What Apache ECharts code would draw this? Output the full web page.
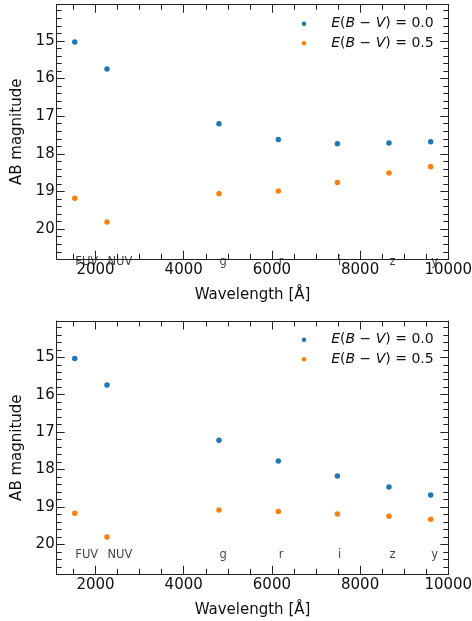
<!DOCTYPE html>
<html>
<head>
<meta charset="utf-8">
<script src="https://cdn.jsdelivr.net/npm/echarts@6/dist/echarts.min.js"></script>
<style>html,body{margin:0;padding:0;background:#fff}#c{width:472px;height:621px}</style>
</head>
<body>
<div id="c"></div>
<script>
// ---- data ----
const bands = ['FUV', 'NUV', 'g', 'r', 'i', 'z', 'y'];
const wavelengths = [1530, 2260, 4800, 6145, 7485, 8655, 9600];
const top_ebv00 = [15.03, 15.75, 17.20, 17.62, 17.73, 17.71, 17.68];
const top_ebv05 = [19.18, 19.81, 19.06, 18.99, 18.76, 18.51, 18.34];
const bot_ebv00 = [15.03, 15.74, 17.22, 17.77, 18.17, 18.47, 18.68];
const bot_ebv05 = [19.17, 19.80, 19.08, 19.12, 19.19, 19.25, 19.33];
const seriesNames = ['E(B−V)=0.0', 'E(B−V)=0.5'];
const legendValues = ['0.0', '0.5'];
const xMajorTicks = [2000, 4000, 6000, 8000, 10000];
const xMinorTicks = [1500, 2500, 3000, 3500, 4500, 5000, 5500, 6500, 7000, 7500, 8500, 9000, 9500];
const yMajorTicks = [15, 16, 17, 18, 19, 20];
const yMinorTicks = [14.2, 14.4, 14.6, 14.8, 15.2, 15.4, 15.6, 15.8, 16.2, 16.4, 16.6, 16.8, 17.2, 17.4, 17.6, 17.8, 18.2, 18.4, 18.6, 18.8, 19.2, 19.4, 19.6, 19.8, 20.2, 20.4, 20.6];
const xRange = [1120, 10000];
const yRange = [14.03, 20.8];
const bandLabelMagTop = 20.87;
const bandLabelMagBottom = 20.28;

// ---- styles ----
const FONT = 'DejaVu Sans';
const BLUE = '#1f77b4', ORANGE = '#ff7f0e';
const TXT = '#111';
const grids = [
  {left: 56.7, top: 4.3, width: 391.6, height: 255, outerBoundsMode: 'none', containLabel: false},
  {left: 56.7, top: 321, width: 391.6, height: 253.3, outerBoundsMode: 'none', containLabel: false}
];

const xAxes = [], yAxes = [];
function mkX(gi, pos, major, labels) {
  return {
    type: 'value', gridIndex: gi, position: pos, min: xRange[0], max: xRange[1],
    name: labels ? 'Wavelength [Å]' : '', nameLocation: 'middle', nameGap: 28,
    nameTextStyle: {fontFamily: FONT, fontSize: 15, color: TXT},
    axisLine: {show: major, onZero: false, lineStyle: {color: '#222', width: 1}},
    axisTick: {show: true, inside: true, length: major ? 8.5 : 5.5,
      customValues: major ? xMajorTicks : xMinorTicks, lineStyle: {color: '#222', width: 1}},
    axisLabel: {show: labels, customValues: xMajorTicks, formatter: v => String(v),
      fontFamily: FONT, fontSize: 15, color: TXT, margin: 3, hideOverlap: false},
    splitLine: {show: false}
  };
}
function mkY(gi, pos, major, labels) {
  return {
    type: 'value', gridIndex: gi, position: pos, inverse: true, min: yRange[0], max: yRange[1],
    name: labels ? 'AB magnitude' : '', nameLocation: 'middle', nameGap: 26, nameRotate: 90,
    nameTextStyle: {fontFamily: FONT, fontSize: 15, color: TXT},
    axisLine: {show: major, onZero: false, lineStyle: {color: '#222', width: 1}},
    axisTick: {show: true, inside: true, length: major ? 8 : 5,
      customValues: major ? yMajorTicks : yMinorTicks, lineStyle: {color: '#222', width: 1}},
    axisLabel: {show: labels, customValues: yMajorTicks, formatter: v => String(v),
      fontFamily: FONT, fontSize: 15, color: TXT, margin: 2},
    splitLine: {show: false}
  };
}
for (let g = 0; g < 2; g++) {
  xAxes.push(mkX(g, 'bottom', true, true));
  xAxes.push(mkX(g, 'bottom', false, false));
  xAxes.push(mkX(g, 'top', true, false));
  xAxes.push(mkX(g, 'top', false, false));
  yAxes.push(mkY(g, 'left', true, true));
  yAxes.push(mkY(g, 'left', false, false));
  yAxes.push(mkY(g, 'right', true, false));
  yAxes.push(mkY(g, 'right', false, false));
}

function pts(vals) { return wavelengths.map((w, i) => [w, vals[i]]); }
function scat(name, gi, vals, color) {
  return {type: 'scatter', name: name, xAxisIndex: gi * 4, yAxisIndex: gi * 4,
    data: pts(vals), symbol: 'circle', symbolSize: 5.5, itemStyle: {color: color, opacity: 1}, z: 3};
}
function bandLabels(gi, mag) {
  return {type: 'scatter', name: 'bands' + gi, xAxisIndex: gi * 4, yAxisIndex: gi * 4,
    clip: false, silent: true, symbolSize: 1, itemStyle: {color: 'rgba(0,0,0,0)'},
    data: bands.map((b, i) => ({name: b, value: [wavelengths[i], mag]})),
    label: {show: true, position: 'right', distance: 0, formatter: p => p.name,
      fontFamily: FONT, fontSize: 11.5, color: TXT}, z: 4};
}

const rich = {
  sp: {width: 20, fontFamily: FONT, fontSize: 14, lineHeight: 18},
  i: {fontFamily: FONT, fontStyle: 'italic', fontSize: 14, color: TXT, lineHeight: 18},
  n: {fontFamily: FONT, fontSize: 14, color: TXT, lineHeight: 18}
};
function legendFmt(name) {
  const v = legendValues[seriesNames.indexOf(name)];
  return '{sp| }{i|E}{n|(}{i|B}{n| − }{i|V}{n|) = ' + v + '}';
}
function mkLegend(top) {
  return {orient: 'vertical', left: 301.75, top: top, padding: 0, itemGap: 5.6,
    itemWidth: 4.5, itemHeight: 4.5, icon: 'circle', data: seriesNames,
    itemStyle: {opacity: 1},
    formatter: legendFmt, textStyle: {rich: rich, fontFamily: FONT, fontSize: 14, color: TXT}};
}

const chart = echarts.init(document.getElementById('c'), null, {renderer: 'canvas'});
chart.setOption({
  animation: false,
  backgroundColor: '#fff',
  grid: grids,
  xAxis: xAxes,
  yAxis: yAxes,
  legend: [mkLegend(16.7), mkLegend(332.7)],
  series: [
    scat(seriesNames[0], 0, top_ebv00, BLUE),
    scat(seriesNames[1], 0, top_ebv05, ORANGE),
    bandLabels(0, bandLabelMagTop),
    scat(seriesNames[0], 1, bot_ebv00, BLUE),
    scat(seriesNames[1], 1, bot_ebv05, ORANGE),
    bandLabels(1, bandLabelMagBottom)
  ]
});
</script>
</body>
</html>
